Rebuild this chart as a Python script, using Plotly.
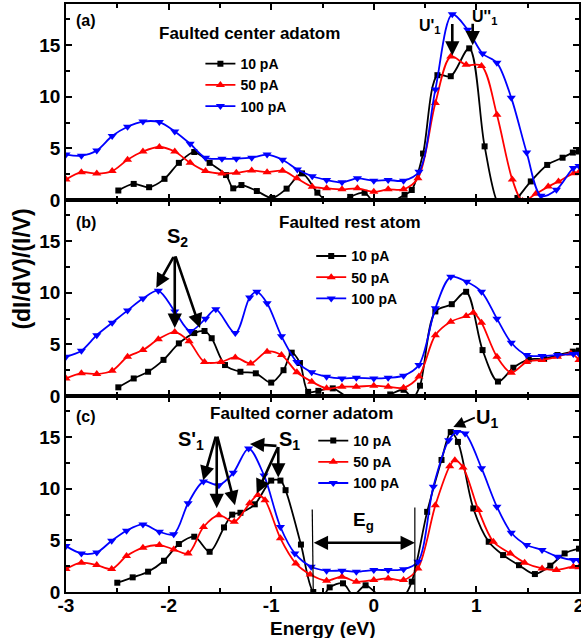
import plotly.graph_objects as go
from plotly.subplots import make_subplots

# ---------------- data ----------------
# Panel (a) Faulted center adatom
a_x_10 = [-2.49, -2.34, -2.19, -2.04, -1.90, -1.75, -1.60, -1.44, -1.37, -1.29, -1.14, -0.99, -0.85, -0.70,
          -0.55, -0.43, -0.32, -0.23, -0.09, 0.01, 0.19, 0.30, 0.37, 0.48, 0.62, 0.75, 0.93, 1.08, 1.22, 1.30,
          1.40, 1.53, 1.69, 1.84, 1.94, 2.0]
a_y_10 = [0.92, 1.56, 1.24, 2.05, 3.6, 4.65, 3.6, 2.42, 1.13, 1.45, 0.87, 0.2, 1.1, 2.58,
          0.71, -0.3, -0.2, 0.3, 0.7, -0.3, -0.1, 0.5, 0.97, 4.5, 12.1, 12.0, 14.7, 5.2, -0.5, -0.8,
          0.2, 1.8, 3.4, 4.1, 4.6, 4.7]
a_x_50 = [-3.0, -2.85, -2.70, -2.55, -2.40, -2.25, -2.09, -1.94, -1.79, -1.64, -1.48, -1.34, -1.19, -1.04,
          -0.89, -0.75, -0.60, -0.46, -0.31, -0.16, 0.0, 0.14, 0.29, 0.43, 0.60, 0.75, 0.90, 1.05, 1.20,
          1.35, 1.45, 1.58, 1.70, 1.80, 1.95, 2.0]
a_y_50 = [1.98, 2.7, 2.56, 2.8, 3.9, 4.7, 5.14, 4.7, 3.6, 2.8, 2.56, 2.63, 2.85, 2.7,
          2.84, 2.1, 1.29, 1.13, 1.03, 1.13, 0.8, 1.03, 1.03, 2.1, 9.4, 13.9, 13.1, 13.0, 8.26,
          1.98, -0.1, 0.6, 1.3, 1.8, 2.6, 2.7]
a_x_100 = [-3.0, -2.85, -2.70, -2.55, -2.40, -2.25, -2.09, -1.94, -1.79, -1.64, -1.48, -1.34, -1.19, -1.04,
           -0.89, -0.745, -0.60, -0.46, -0.31, -0.16, 0.0, 0.14, 0.29, 0.44, 0.60, 0.765, 0.915, 1.06, 1.20,
           1.34, 1.49, 1.63, 1.78, 1.945, 2.0]
a_y_100 = [4.4, 4.3, 4.8, 6.2, 7.1, 7.6, 7.55, 6.65, 5.45, 4.1, 4.0, 4.0, 4.1, 4.4,
           3.9, 2.95, 2.3, 1.94, 1.71, 2.1, 1.87, 1.94, 1.87, 2.74, 10.7, 18.0, 16.5, 14.2, 13.3,
           9.9, 4.6, 0.4, 1.0, 3.1, 3.3]

# Panel (b) Faulted rest atom
b_x_10 = [-2.49, -2.34, -2.20, -2.05, -1.90, -1.75, -1.65, -1.58, -1.45, -1.30, -1.15, -1.00, -0.88, -0.80,
          -0.72, -0.64, -0.54, -0.40, -0.26, -0.10, 0.05, 0.16, 0.29, 0.38, 0.45, 0.60, 0.76, 0.90, 1.06,
          1.21, 1.36, 1.51, 1.66, 1.79, 1.94, 2.0]
b_y_10 = [0.84, 1.7, 2.35, 3.5, 5.1, 6.1, 6.3, 5.6, 3.0, 2.35, 2.2, 1.3, 2.5, 4.2,
          3.2, 0.4, 0.5, 0.74, -0.1, -0.6, -0.4, 0.15, 0.6, -0.2, 1.0, 8.2, 8.9, 10.1, 4.45,
          1.4, 2.74, 3.55, 3.6, 3.97, 4.3, 4.4]
b_x_50 = [-3.0, -2.85, -2.70, -2.55, -2.40, -2.25, -2.10, -1.94, -1.80, -1.65, -1.49, -1.35, -1.20, -1.04,
          -0.90, -0.75, -0.605, -0.46, -0.31, -0.17, 0.0, 0.14, 0.29, 0.44, 0.60, 0.75, 0.90, 0.97, 1.05,
          1.20, 1.34, 1.49, 1.64, 1.79, 1.92, 2.0]
b_y_50 = [1.7, 2.2, 2.13, 2.45, 3.8, 4.45, 5.5, 6.2, 5.3, 3.3, 3.3, 3.74, 3.16, 4.3,
          3.97, 2.3, 1.39, 0.74, 0.9, 0.9, 1.0, 0.9, 0.8, 1.9, 5.9, 7.2, 7.75, 8.07, 7.1,
          3.8, 2.26, 3.3, 3.5, 3.8, 4.13, 3.5]
b_x_100 = [-3.0, -2.85, -2.70, -2.55, -2.40, -2.25, -2.10, -1.94, -1.79, -1.64, -1.54, -1.35, -1.21, -1.14,
           -1.04, -0.90, -0.75, -0.605, -0.46, -0.31, -0.17, 0.0, 0.14, 0.29, 0.44, 0.60, 0.75, 0.905, 1.05,
           1.20, 1.34, 1.49, 1.64, 1.79, 1.945, 2.0]
b_y_100 = [3.8, 4.39, 5.9, 7.1, 8.3, 9.45, 10.2, 8.2, 6.3, 7.5, 8.4, 6.1, 9.55, 10.1,
           9.0, 5.8, 3.3, 2.3, 1.87, 1.7, 1.76, 1.7, 1.76, 1.97, 3.0, 8.5, 11.55, 11.07, 10.1,
           7.5, 5.16, 3.97, 3.87, 3.97, 4.07, 4.1]

# Panel (c) Faulted corner adatom
c_x_10 = [-2.5, -2.35, -2.2, -2.045, -1.90, -1.75, -1.60, -1.46, -1.38, -1.30, -1.16, -1.0, -0.91, -0.86,
          -0.71, -0.59, -0.50, -0.43, -0.30, -0.20, -0.08, 0.05, 0.20, 0.30, 0.37, 0.52, 0.66, 0.75, 0.82,
          0.97, 1.12, 1.26, 1.415, 1.57, 1.72, 1.86, 2.0]
c_y_10 = [0.9, 1.42, 1.97, 3.03, 4.65, 5.36, 3.9, 6.26, 7.5, 7.68, 8.5, 10.8, 10.8, 9.87,
          4.6, 0.0, -0.4, 0.45, 0.84, -0.3, 0.65, -0.3, -0.4, -0.3, 1.0, 7.77, 12.8, 15.5, 14.55,
          8.1, 4.87, 3.58, 2.6, 1.74, 2.55, 3.74, 4.2]
c_x_50 = [-3.0, -2.85, -2.70, -2.555, -2.41, -2.25, -2.09, -1.95, -1.81, -1.66, -1.51, -1.36, -1.21, -1.13,
          -1.06, -0.91, -0.76, -0.62, -0.46, -0.31, -0.17, 0.0, 0.14, 0.29, 0.43, 0.60, 0.74, 0.79, 0.87,
          1.02, 1.165, 1.33, 1.47, 1.64, 1.78, 1.945, 2.0]
c_y_50 = [2.23, 2.84, 2.61, 2.23, 3.48, 4.3, 4.55, 4.13, 3.74, 6.3, 7.45, 6.8, 8.6, 9.4,
          8.9, 5.2, 2.77, 1.7, 1.1, 1.48, 1.0, 1.16, 1.32, 1.16, 2.29, 8.4, 12.2, 12.78, 12.07,
          7.94, 4.87, 3.74, 2.84, 2.29, 2.13, 2.45, 2.4]
c_x_100 = [-3.0, -2.85, -2.70, -2.555, -2.41, -2.25, -2.09, -1.95, -1.81, -1.66, -1.51, -1.37, -1.22, -1.07,
           -0.91, -0.77, -0.61, -0.46, -0.31, -0.17, 0.0, 0.14, 0.29, 0.43, 0.58, 0.73, 0.81, 0.89, 1.05,
           1.20, 1.34, 1.49, 1.64, 1.79, 1.945, 2.0]
c_y_100 = [4.45, 3.74, 3.84, 4.97, 5.94, 6.55, 5.84, 5.6, 8.6, 10.7, 10.36, 11.55, 13.9, 11.3,
           6.3, 3.74, 2.45, 2.07, 2.07, 1.97, 2.13, 2.13, 2.2, 2.93, 10.2, 14.7, 15.5, 15.36, 12.0,
           8.26, 5.74, 4.55, 4.07, 3.42, 3.1, 3.1]

series_names = ["10 pA", "50 pA", "100 pA"]
panel_titles = ["Faulted center adatom", "Faulted rest atom", "Faulted corner adatom"]
panel_tags = ["(a)", "(b)", "(c)"]
x_ticks = [-3, -2, -1, 0, 1, 2]
y_ticks = [0, 5, 10, 15]

panels = [
    [(a_x_10, a_y_10), (a_x_50, a_y_50), (a_x_100, a_y_100)],
    [(b_x_10, b_y_10), (b_x_50, b_y_50), (b_x_100, b_y_100)],
    [(c_x_10, c_y_10), (c_x_50, c_y_50), (c_x_100, c_y_100)],
]

# ---------------- styles ----------------
FONT = "Arial, Liberation Sans, sans-serif"
colors = ["#000000", "#ff0000", "#0000ff"]
symbols = ["square", "triangle-up", "triangle-down"]
msizes = [6, 8, 8]
legend_ids = ["legend", "legend2", "legend3"]

fig = make_subplots(rows=3, cols=1, shared_xaxes=True, vertical_spacing=0)

for p, series in enumerate(panels):
    for s, (xs, ys) in enumerate(series):
        fig.add_trace(go.Scatter(
            x=xs, y=ys, name=series_names[s], mode="lines+markers",
            line=dict(color=colors[s], width=1.8, shape="spline", smoothing=0.9),
            marker=dict(color=colors[s], symbol=symbols[s], size=msizes[s], line=dict(width=0)),
            legend=legend_ids[p], showlegend=True,
        ), row=p + 1, col=1)

axis_common = dict(
    showline=True, linecolor="black", linewidth=1.5, mirror="allticks",
    ticks="inside", ticklen=6, tickwidth=1.5, tickcolor="black",
    showgrid=False, zeroline=False, automargin=False,
    tickfont=dict(family=FONT, size=19, color="black", weight="bold"),
)
for r in range(1, 4):
    fig.update_xaxes(range=[-3, 2], tickvals=x_ticks, ticktext=[str(v) for v in x_ticks],
                     minor=dict(dtick=0.5, ticks="inside", ticklen=4, tickwidth=1.5, tickcolor="black"),
                     ticklabeloverflow="allow", ticklabelstandoff=-5,
                     row=r, col=1, **axis_common)
    fig.update_yaxes(range=[0, 19], tickvals=y_ticks,
                     minor=dict(dtick=2.5, ticks="inside", ticklen=4, tickwidth=1.5, tickcolor="black"),
                     row=r, col=1, **axis_common)

legend_pos = [(0.262, 0.925), (0.478, 0.598), (0.482, 0.284)]
leg_layout = {}
for i, lid in enumerate(legend_ids):
    leg_layout[lid] = dict(
        x=legend_pos[i][0], y=legend_pos[i][1], xanchor="left", yanchor="top",
        bgcolor="rgba(0,0,0,0)", borderwidth=0, tracegroupgap=0,
        font=dict(family=FONT, size=14, color="black", weight="bold"),
        itemwidth=30,
    )

annotations = []
xrefs = ["x", "x2", "x3"]
yrefs = ["y", "y2", "y3"]


def txt(p, x, y, text, size, **kw):
    annotations.append(dict(xref=xrefs[p], yref=yrefs[p], x=x, y=y, text=text, showarrow=False,
                            font=dict(family=FONT, size=size, color="black", weight="bold"), **kw))


def arrow(p, x, y, ax, ay, width=2.6, size=1.1):
    annotations.append(dict(xref=xrefs[p], yref=yrefs[p], x=x, y=y, ax=ax, ay=ay, text="",
                            showarrow=True, arrowhead=2, arrowsize=size, arrowwidth=width,
                            arrowcolor="black", standoff=0, startstandoff=0))


# panel tags and titles
tag_pos = [(-2.805, 17.4), (-2.805, 16.8), (-2.805, 17.05)]
title_pos = [(-1.207, 16.18), (-0.232, 16.86), (-0.70, 17.35)]
for p in range(3):
    txt(p, tag_pos[p][0], tag_pos[p][1], panel_tags[p], 16)
    txt(p, title_pos[p][0], title_pos[p][1], panel_titles[p], 17)

# (a) U'1 and U''1
txt(0, 0.548, 16.86, "U'<sub>1</sub>", 16)
txt(0, 1.075, 17.73, "U''<sub>1</sub>", 16)
arrow(0, 0.765, 14.0, 0, -33)
arrow(0, 0.964, 15.0, 0, -23)

# (b) S2
txt(1, -1.918, 15.4, "S<sub>2</sub>", 20)
arrow(1, -2.12, 10.5, 18, -32)
arrow(1, -1.94, 6.6, 0, -73)
arrow(1, -1.694, 6.6, -25, -73)

# (c) S'1, S1, U1, Eg
txt(2, -1.782, 14.73, "S'<sub>1</sub>", 20)
arrow(2, -1.663, 10.84, 13, -45)
arrow(2, -1.531, 8.13, 0, -73)
arrow(2, -1.353, 8.42, -18, -70)
txt(2, -0.817, 14.73, "S<sub>1</sub>", 20)
arrow(2, -1.207, 14.35, 28, 2)
arrow(2, -0.931, 11.1, 0, -32)
arrow(2, -1.141, 9.55, 22, -48)
txt(2, 1.103, 16.86, "U<sub>1</sub>", 20)
arrow(2, 0.775, 16.0, 23, -10, width=1.8, size=1.3)
txt(2, -0.105, 6.88, "E<sub>g</sub>", 19)
annotations.append(dict(xref="x3", yref="y3", x=0.40, y=4.77, axref="x3", ayref="y3", ax=-0.60, ay=4.77,
                        text="", showarrow=True, arrowhead=2, arrowside="end+start", arrowsize=1.1,
                        arrowwidth=2.6, arrowcolor="black", standoff=0, startstandoff=0))

# axis titles
annotations.append(dict(xref="paper", yref="paper", x=-0.0858, y=0.55, text="(dI/dV)/(I/V)",
                        textangle=-90, showarrow=False, xanchor="center", yanchor="middle",
                        font=dict(family=FONT, size=23, color="black", weight="bold")))
annotations.append(dict(xref="paper", yref="paper", x=0.5, y=-0.062, text="Energy (eV)",
                        showarrow=False, xanchor="center", yanchor="middle",
                        font=dict(family=FONT, size=19, color="black", weight="bold")))

shapes = [
    dict(type="line", xref="x3", yref="y3", x0=-0.60, x1=-0.59, y0=8.0, y1=0, line=dict(color="black", width=1.2)),
    dict(type="line", xref="x3", yref="y3", x0=0.40, x1=0.40, y0=8.2, y1=0, line=dict(color="black", width=1.2)),
]

fig.update_layout(
    width=581, height=638,
    margin=dict(l=66, r=2, t=4, b=46, autoexpand=False),
    paper_bgcolor="white", plot_bgcolor="white",
    annotations=annotations, shapes=shapes,
    **leg_layout,
)

fig.write_html("out.html")
